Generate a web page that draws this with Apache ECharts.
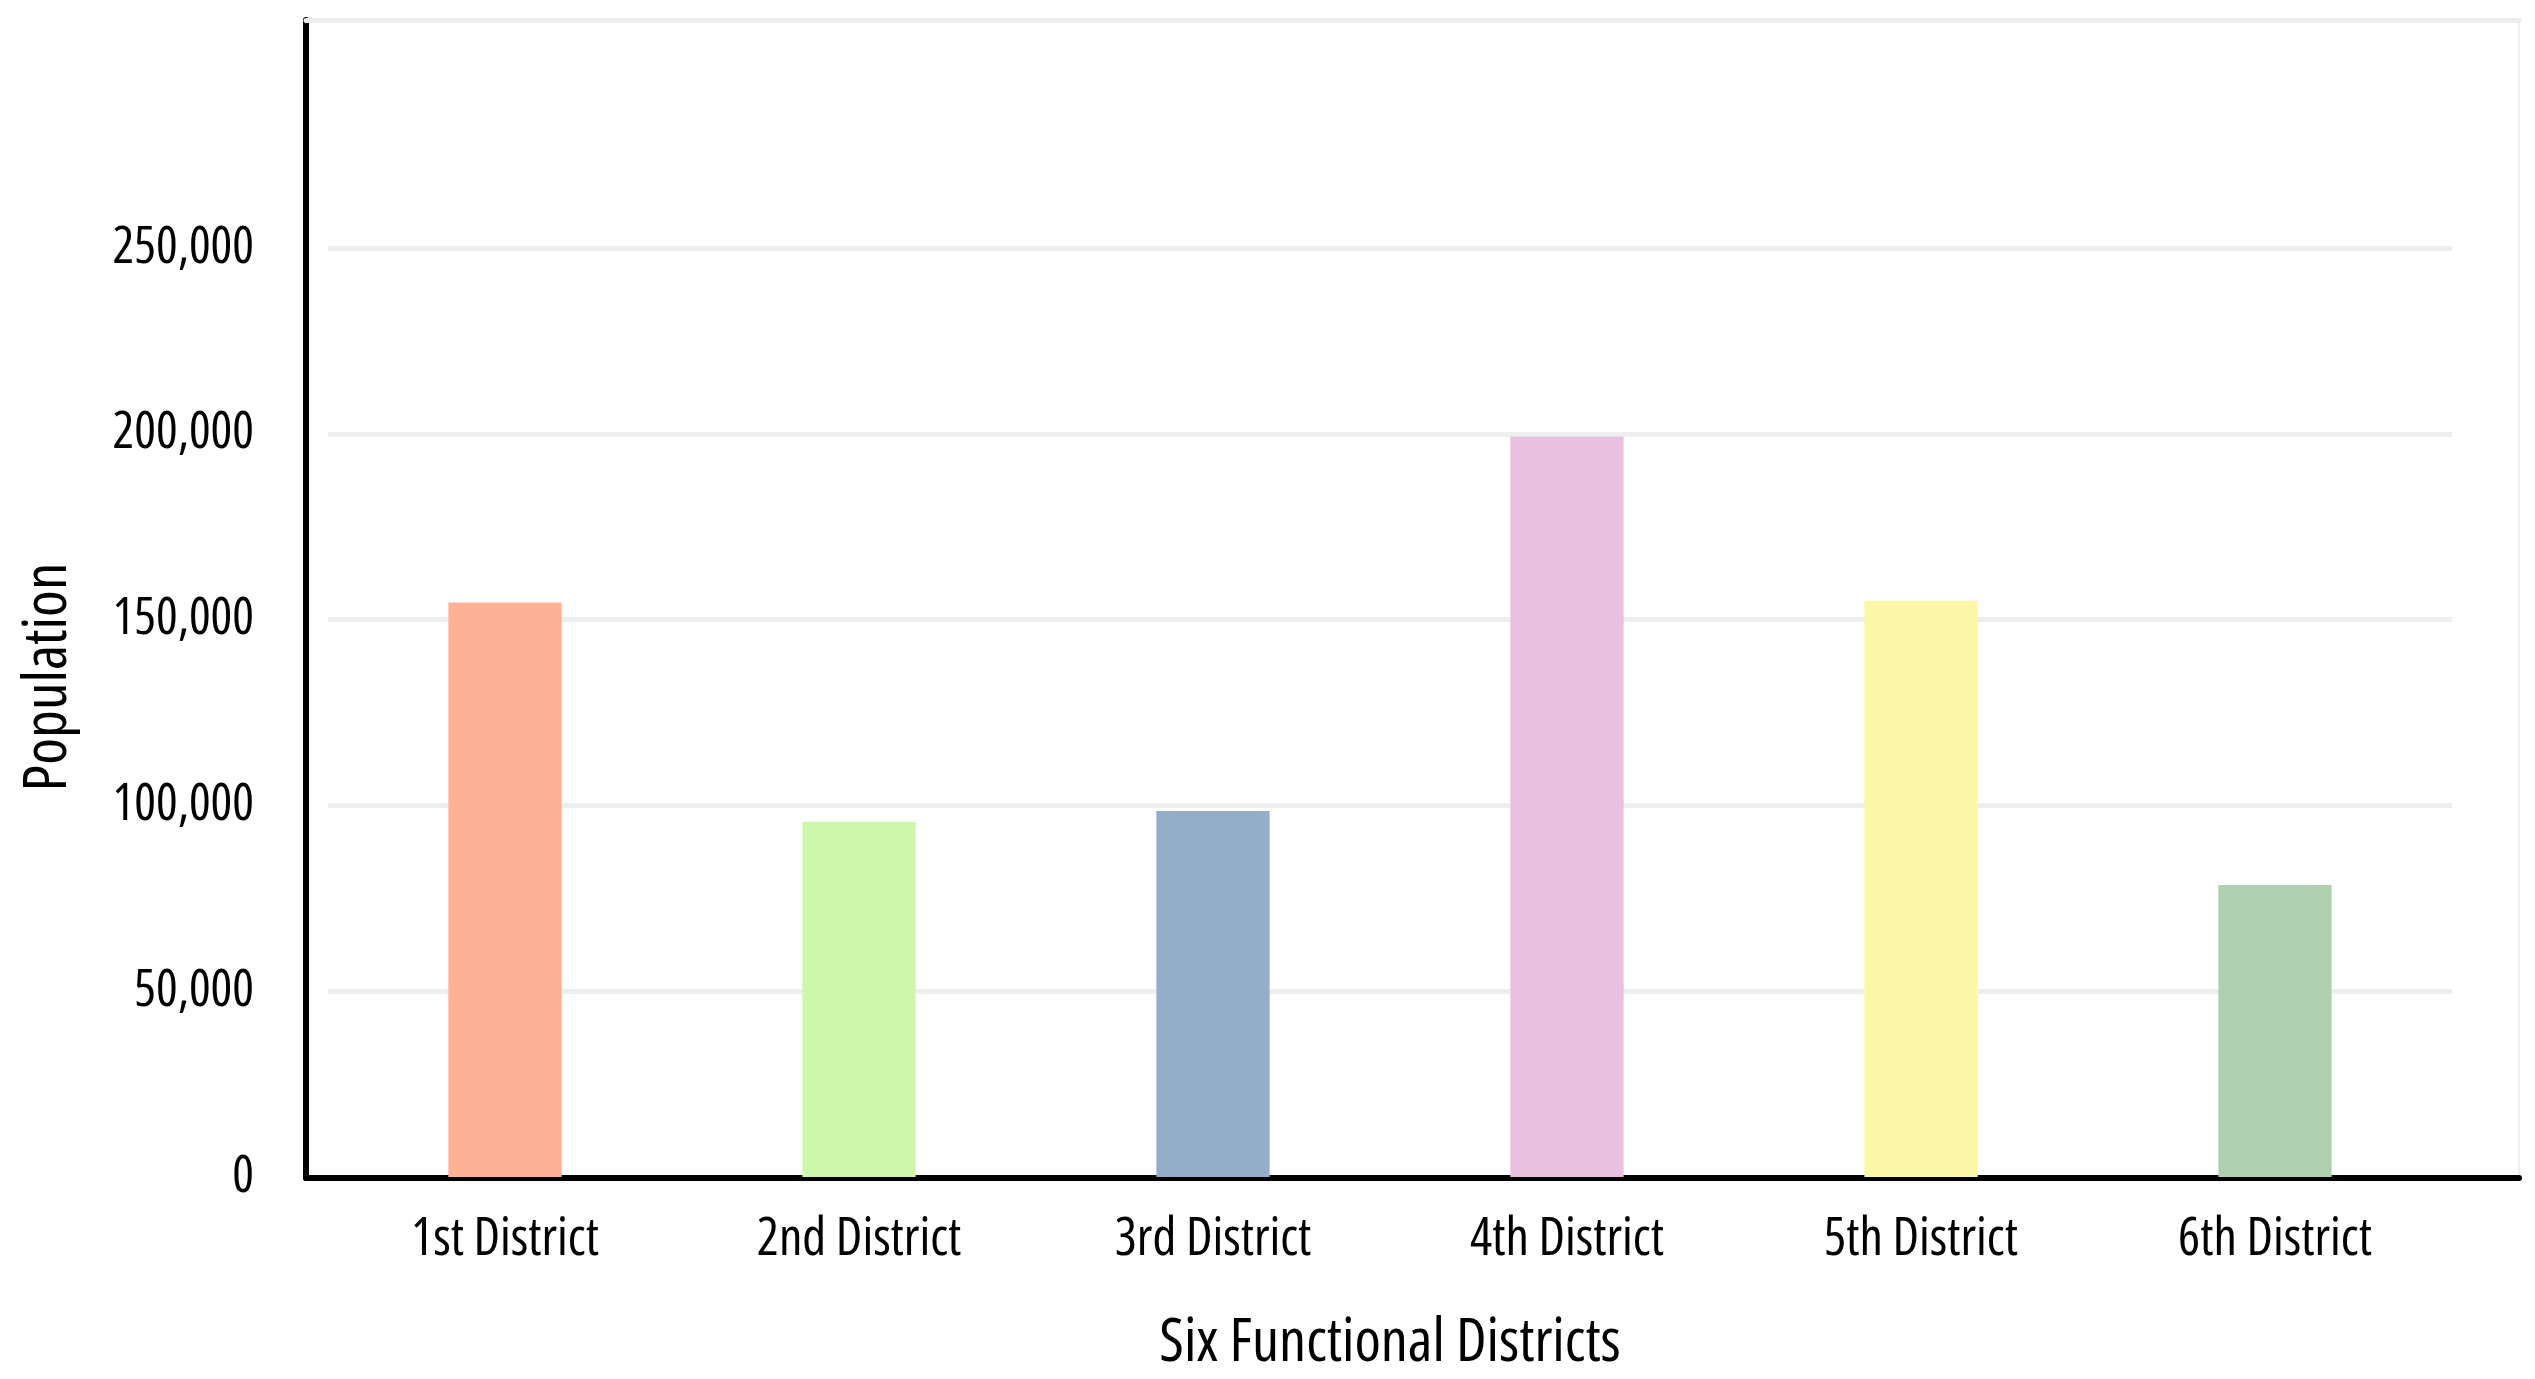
<!DOCTYPE html>
<html>
<head>
<meta charset="utf-8">
<style>
  html, body { margin: 0; padding: 0; background: #ffffff; }
  #chart { width: 2535px; height: 1379px; }
</style>
<script src="https://cdn.jsdelivr.net/npm/echarts@6/dist/echarts.min.js"></script>
</head>
<body>
<div id="chart"></div>
<script>
const categories = ['1st District', '2nd District', '3rd District', '4th District', '5th District', '6th District'];
const population = [154600, 95600, 98500, 199300, 155100, 78600];
const barColors = ['#FDB296', '#CEF7A9', '#94ADC8', '#E8C1E0', '#FCF7A6', '#AFD0AE'];
const yTicks = { min: 0, max: 250000, interval: 50000 };
const xTitle = 'Six Functional Districts';
const yTitle = 'Population';

const FAMILY = '"Open Sans"';
const STRETCH = 'condensed';

const chart = echarts.init(document.getElementById('chart'), null, { renderer: 'canvas' });

const option = {
  backgroundColor: '#ffffff',
  animation: false,
  grid: [
    { left: 328, right: 83, top: 248, bottom: 201 },
    { left: 306, right: 16, top: 20, bottom: 201, show: true, borderColor: '#eeeeee', borderWidth: 2, backgroundColor: 'transparent', z: 0 }
  ],
  xAxis: [
    {
      gridIndex: 0,
      type: 'category',
      data: categories,
      axisLine: { show: false },
      axisTick: { show: false },
      axisLabel: { color: '#000000', fontFamily: FAMILY, fontWeight: STRETCH, fontSize: 52, margin: 37 },
      name: xTitle,
      nameLocation: 'middle',
      nameGap: 137,
      nameTextStyle: { color: '#000000', fontFamily: FAMILY, fontWeight: STRETCH, fontSize: 60 }
    },
    {
      gridIndex: 1,
      type: 'value',
      position: 'bottom',
      min: 0, max: 1,
      axisLine: { show: true, onZero: false, lineStyle: { color: '#000000', width: 6 } },
      axisTick: { show: false },
      axisLabel: { show: false },
      splitLine: { show: false }
    },
    {
      gridIndex: 1,
      type: 'value',
      position: 'top',
      min: 0, max: 1,
      axisLine: { show: true, onZero: false, lineStyle: { color: '#ececec', width: 5 } },
      axisTick: { show: false },
      axisLabel: { show: false },
      splitLine: { show: false }
    }
  ],
  yAxis: [
    {
      gridIndex: 0,
      type: 'value',
      min: yTicks.min,
      max: yTicks.max,
      interval: yTicks.interval,
      axisLine: { show: false },
      axisTick: { show: false },
      axisLabel: {
        color: '#000000', fontFamily: FAMILY, fontWeight: STRETCH, fontSize: 51, margin: 74,
        formatter: v => v.toLocaleString('en-US')
      },
      splitLine: { show: true, lineStyle: { color: '#eeeeee', width: 5 } }
    },
    {
      gridIndex: 1,
      type: 'value',
      min: 0, max: 1,
      axisLine: { show: true, onZero: false, lineStyle: { color: '#000000', width: 6 } },
      axisTick: { show: false },
      axisLabel: { show: false },
      splitLine: { show: false }
    }
  ],
  graphic: [
    {
      type: 'text',
      x: 49, y: 677,
      rotation: Math.PI / 2,
      style: {
        text: yTitle,
        fill: '#000000',
        font: STRETCH + ' 61px ' + FAMILY,
        align: 'center',
        verticalAlign: 'middle'
      }
    }
  ],
  series: [
    {
      type: 'bar',
      xAxisIndex: 0,
      yAxisIndex: 0,
      barWidth: '32%',
      data: population.map((v, i) => ({ value: v, itemStyle: { color: barColors[i] } })),
      z: 3
    }
  ]
};

chart.setOption(option);
</script>
</body>
</html>
